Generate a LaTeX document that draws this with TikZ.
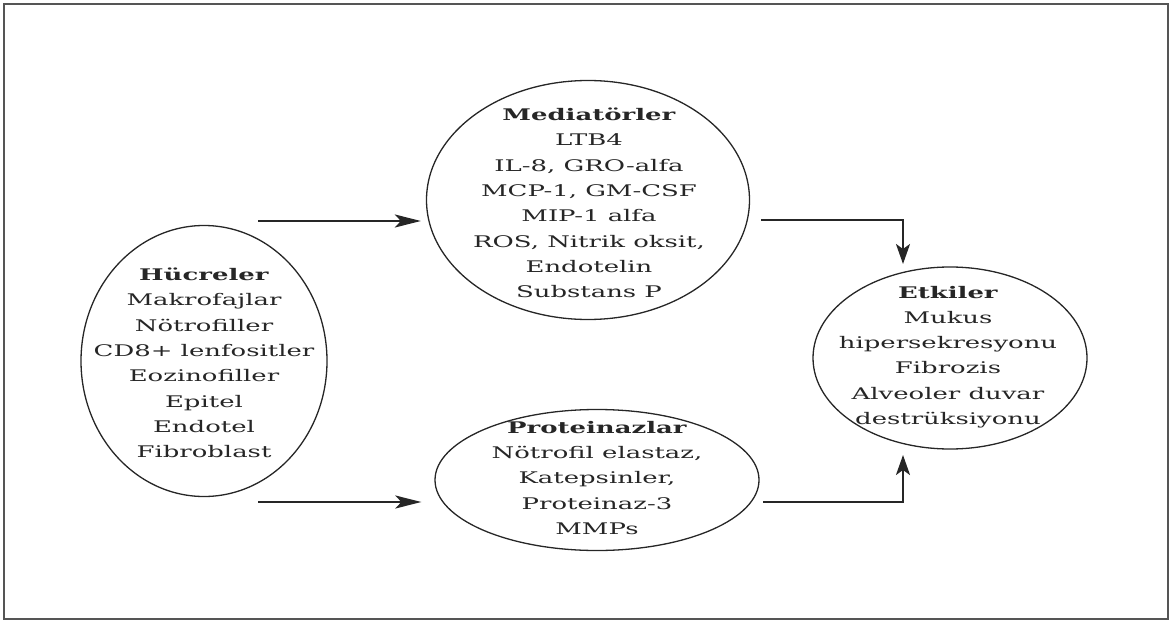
\documentclass[tikz,border=0pt]{standalone}
\usepackage{fontspec}
\setmainfont[FakeStretch=1.62]{DejaVu Serif}
\usetikzlibrary{shapes.geometric,arrows.meta}
\definecolor{ink}{HTML}{262626}
\definecolor{frame}{HTML}{555555}
\tikzset{
  oval/.style={ellipse,draw=ink,line width=1.3pt,inner sep=0pt},
  txt/.style={align=center,text=ink,font=\fontsize{16}{25.3}\selectfont},
  arr/.style={draw=ink,line width=2.2pt,-{Stealth[length=20pt,width=14pt,inset=5pt]}},
  harr/.style={draw=ink,line width=2.2pt,-{Stealth[length=26pt,width=13pt,inset=6pt]}}
}
\begin{document}
\begin{tikzpicture}[x=1pt,y=-1pt]
\useasboundingbox (0,0) rectangle (1172,623);
\draw[frame,line width=1.5pt] (4,4) rectangle (1168,619);
% ellipses
\node[oval,minimum width=246pt,minimum height=271pt] (huc) at (204,361) {};
\node[oval,minimum width=323pt,minimum height=239pt] (med) at (588,200) {};
\node[oval,minimum width=324pt,minimum height=141pt] (pro) at (597,480) {};
\node[oval,minimum width=274pt,minimum height=182pt] (etk) at (950,358) {};
% texts
\node[txt] (huct) at (204,363) {\textbf{Hücreler}\\Makrofajlar\\Nötrofiller\\CD8+ lenfositler\\Eozinofiller\\Epitel\\Endotel\\Fibroblast};
\node[txt] (medt) at (589,203) {\textbf{Mediatörler}\\LTB4\\IL-8, GRO-alfa\\MCP-1, GM-CSF\\MIP-1 alfa\\ROS, Nitrik oksit,\\Endotelin\\Substans P};
\node[txt] (prot) at (597,478) {\textbf{Proteinazlar}\\Nötrofil elastaz,\\Katepsinler,\\Proteinaz-3\\MMPs};
\node[txt] (etkt) at (948,357) {\textbf{Etkiler}\\Mukus\\hipersekresyonu\\Fibrozis\\Alveoler duvar\\destrüksiyonu};
% connectors
\coordinate (s1) at (258,221);
\coordinate (s2) at (258,502);
\coordinate (m1) at (761,220);
\coordinate (p1) at (763,502);
\coordinate (e1) at (903,264);
\coordinate (e2) at (903,455);
\draw[harr,shorten >=5pt] (s1) -- (s1 -| med.west);
\draw[harr,shorten >=13pt] (s2) -- (s2 -| pro.west);
\draw[arr] (m1) -| (e1);
\draw[arr] (p1) -| (e2);
\end{tikzpicture}
\end{document}
